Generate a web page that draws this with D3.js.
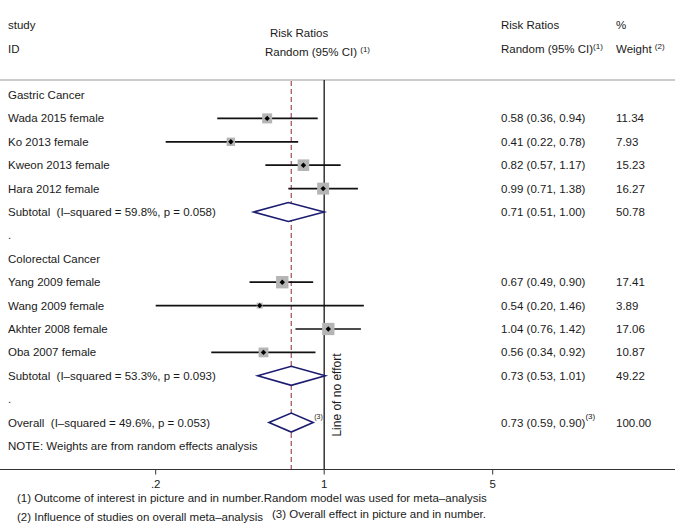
<!DOCTYPE html>
<html><head><meta charset="utf-8">
<script src="https://cdn.jsdelivr.net/npm/d3@7"></script>
<style>
body{margin:0;background:#fff;}
svg text{font-family:"Liberation Sans",Arial,Helvetica,sans-serif;fill:#1a1a1a;white-space:pre;}
</style></head>
<body><svg id="c" width="675" height="524"></svg>
<script>
const rowLabels = ["Gastric Cancer","Wada 2015 female","Ko 2013 female","Kweon 2013 female","Hara 2012 female",
  "Subtotal  (I\u2013squared = 59.8%, p = 0.058)",".","Colorectal Cancer","Yang 2009 female","Wang 2009 female",
  "Akhter 2008 female","Oba 2007 female","Subtotal  (I\u2013squared = 53.3%, p = 0.093)",".",
  "Overall  (I\u2013squared = 49.6%, p = 0.053)"];
const rowType = ["head","study","study","study","study","sub","blank","head","study","study","study","study","sub","blank","overall"];
const estimate = [null,0.58,0.41,0.82,0.99,0.71,null,null,0.67,0.54,1.04,0.56,0.73,null,0.73];
const lower    = [null,0.36,0.22,0.57,0.71,0.51,null,null,0.49,0.20,0.76,0.34,0.53,null,0.59];
const upper    = [null,0.94,0.78,1.17,1.38,1.00,null,null,0.90,1.46,1.42,0.92,1.01,null,0.90];
const weight   = [null,11.34,7.93,15.23,16.27,50.78,null,null,17.41,3.89,17.06,10.87,49.22,null,100.00];
const tickValues = [0.2, 1, 5];
const tickLabels = [".2", "1", "5"];
const overallRR = 0.73;
const noteText = "NOTE: Weights are from random effects analysis";
const footnotes = ["(1) Outcome of interest in picture and in number.Random model was used for meta\u2013analysis",
  "(2) Influence of studies on overall meta\u2013analysis","(3) Overall effect in picture and in number."];

const svg = d3.select("#c");
const x = d3.scaleLog().domain([0.2, 5]).range([155.7, 492.7]);
const y = d3.scaleLinear().domain([0, 15]).range([95, 446]);
const fs = 11.5;

// header
const hdr = svg.append("g").style("font-size", fs + "px");
hdr.append("text").attr("x", 8).attr("y", 29).text("study");
hdr.append("text").attr("x", 8).attr("y", 53).text("ID");
hdr.append("text").attr("x", 270).attr("y", 37).text("Risk Ratios");
const t1 = hdr.append("text").attr("x", 265).attr("y", 56).text("Random (95% CI) ");
t1.append("tspan").attr("dy", -4).style("font-size", "8px").text("(1)");
hdr.append("text").attr("x", 501).attr("y", 29).text("Risk Ratios");
const t2 = hdr.append("text").attr("x", 501).attr("y", 53).text("Random (95% CI)");
t2.append("tspan").attr("dy", -4).style("font-size", "8px").text("(1)");
hdr.append("text").attr("x", 616).attr("y", 29).text("%");
const t3 = hdr.append("text").attr("x", 616).attr("y", 53).text("Weight ");
t3.append("tspan").attr("dy", -4).style("font-size", "8px").text("(2)");

// top rule
svg.append("line").attr("x1", 0).attr("x2", 675).attr("y1", 80).attr("y2", 80)
  .attr("stroke", "#9a9a9a").attr("stroke-width", 1.2);

// reference lines
svg.append("line").attr("x1", x(1)).attr("x2", x(1)).attr("y1", 80).attr("y2", 469.5)
  .attr("stroke", "#333").attr("stroke-width", 1.5);
svg.append("line").attr("x1", x(overallRR)).attr("x2", x(overallRR)).attr("y1", 81).attr("y2", 469.5)
  .attr("stroke", "#a44c5c").attr("stroke-width", 1.2).attr("stroke-dasharray", "5,3");

// row labels
svg.append("g").style("font-size", fs + "px").selectAll("text").data(rowLabels).join("text")
  .attr("x", 8).attr("y", (d, i) => y(i) + 4).text(d => d);

// CI lines
const idx = d3.range(rowLabels.length);
const studies = idx.filter(i => rowType[i] === "study");
svg.append("g").selectAll("line").data(studies).join("line")
  .attr("x1", i => x(lower[i])).attr("x2", i => x(upper[i]))
  .attr("y1", i => y(i)).attr("y2", i => y(i)).attr("stroke", "#111").attr("stroke-width", 1.7);
// weight squares
svg.append("g").selectAll("rect").data(studies).join("rect")
  .attr("x", i => x(estimate[i]) - 1.485 * Math.sqrt(weight[i]))
  .attr("y", i => y(i) - 1.485 * Math.sqrt(weight[i]))
  .attr("width", i => 2.97 * Math.sqrt(weight[i]))
  .attr("height", i => 2.97 * Math.sqrt(weight[i]))
  .attr("fill", "#b5b5b5");
// point markers
svg.append("g").selectAll("path").data(studies).join("path")
  .attr("d", i => { const cx = x(estimate[i]), cy = y(i), r = 2.7;
    return `M${cx},${cy-r}L${cx+r},${cy}L${cx},${cy+r}L${cx-r},${cy}Z`; })
  .attr("fill", "#000");

// diamonds
const pooled = idx.filter(i => rowType[i] === "sub" || rowType[i] === "overall");
svg.append("g").selectAll("path").data(pooled).join("path")
  .attr("d", i => { const cy = y(i), h = 9.5;
    return `M${x(lower[i])},${cy}L${x(estimate[i])},${cy-h}L${x(upper[i])},${cy}L${x(estimate[i])},${cy+h}Z`; })
  .attr("fill", "#fff").attr("stroke", "#1c1c70").attr("stroke-width", 1.6);
svg.append("text").attr("x", x(upper[14]) + 1).attr("y", y(14) - 4).style("font-size", "7px").text("(3)");

// right columns
const dataRows = idx.filter(i => estimate[i] !== null);
const rc = svg.append("g").style("font-size", fs + "px");
dataRows.forEach(i => {
  const t = rc.append("text").attr("x", 501).attr("y", y(i) + 4)
    .text(`${estimate[i].toFixed(2)} (${lower[i].toFixed(2)}, ${upper[i].toFixed(2)})`);
  if (rowType[i] === "overall") t.append("tspan").attr("dy", -8).style("font-size", "8px").text("(3)");
  rc.append("text").attr("x", 616).attr("y", y(i) + 4).text(weight[i].toFixed(2));
});

// note
svg.append("text").attr("x", 8).attr("y", y(15) + 4).style("font-size", fs + "px").text(noteText);

// line of no effect label
svg.append("text").attr("transform", `translate(${x(1) + 17},395) rotate(-90)`)
  .attr("text-anchor", "middle").style("font-size", "12px").text("Line of no effort");

// axis
const ax = svg.append("g").attr("transform", "translate(0,469.5)");
ax.append("line").attr("x1", 0).attr("x2", 675).attr("stroke", "#333").attr("stroke-width", 1.2);
ax.selectAll("line.tick").data(tickValues).join("line").attr("class", "tick")
  .attr("x1", d => x(d)).attr("x2", d => x(d)).attr("y1", 0).attr("y2", 5).attr("stroke", "#333");
ax.selectAll("text").data(tickValues).join("text")
  .attr("x", d => x(d)).attr("y", 18).attr("text-anchor", "middle")
  .style("font-size", fs + "px").text((d, i) => tickLabels[i]);

// footnotes
const fn = svg.append("g").style("font-size", "11.5px");
fn.append("text").attr("x", 17).attr("y", 502).text(footnotes[0]);
fn.append("text").attr("x", 17).attr("y", 521).text(footnotes[1]);
fn.append("text").attr("x", 272).attr("y", 518).text(footnotes[2]);
</script></body></html>
